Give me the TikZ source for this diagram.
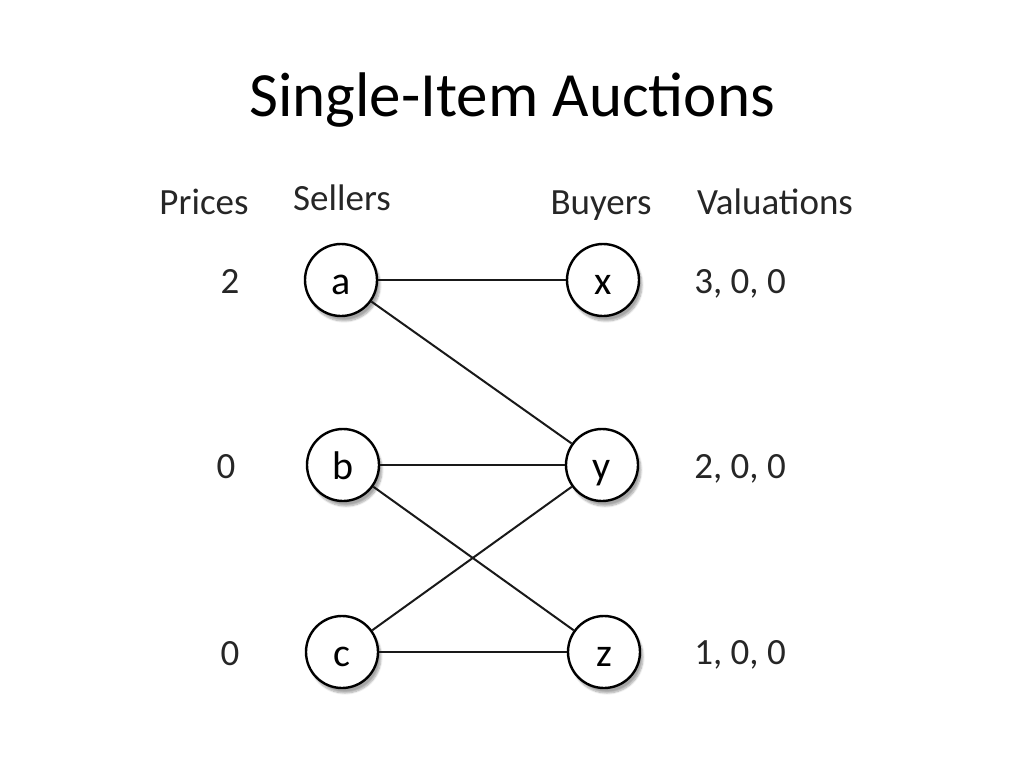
\documentclass[tikz,border=0pt]{standalone}
\usepackage{fontspec}
\setmainfont{Carlito}
\usetikzlibrary{shadows,shadows.blur}
\begin{document}
\begin{tikzpicture}[x=1pt,y=-1pt,
  vert/.style={circle,draw=black,line width=2.4pt,fill=white,minimum size=72pt,inner sep=0pt,
    text height=29pt,text depth=0pt,
    font=\fontsize{40}{40}\selectfont,
    blur shadow={shadow xshift=3pt,shadow yshift=-5pt,shadow blur steps=8,shadow opacity=35}},
  lbl/.style={font=\fontsize{37}{37}\selectfont,text=black!85,inner sep=0pt,anchor=base},
  edge/.style={line width=2pt,black!90}]
\useasboundingbox (0,0) rectangle (1024,768);
\node[font=\fontsize{63}{63}\selectfont,inner sep=0pt] (title) at (512,100) {Single-Item Auctions};
\node[lbl] (hp) at (204,214) {Prices};
\node[lbl] (hs) at (342,210) {Sellers};
\node[lbl] (hb) at (601,214) {Buyers};
\node[lbl] (hv) at (775,214) {Valuations};
\node[lbl] (p1) at (230,293) {2};
\node[lbl] (p2) at (226,478) {0};
\node[lbl] (p3) at (230,665) {0};
\node[lbl] (v1) at (740,293) {3, 0, 0};
\node[lbl] (v2) at (740,478) {2, 0, 0};
\node[lbl] (v3) at (740,664) {1, 0, 0};
\node[vert] (a) at (341,280) {a};
\node[vert] (b) at (343,465) {b};
\node[vert] (c) at (342,652) {c};
\node[vert] (x) at (603,280) {x};
\node[vert] (y) at (602,465) {y};
\node[vert] (z) at (604,652) {z};
\draw[edge] (a) -- (x);
\draw[edge] (a) -- (y);
\draw[edge] (b) -- (y);
\draw[edge] (b) -- (z);
\draw[edge] (c) -- (y);
\draw[edge] (c) -- (z);
\end{tikzpicture}
\end{document}
